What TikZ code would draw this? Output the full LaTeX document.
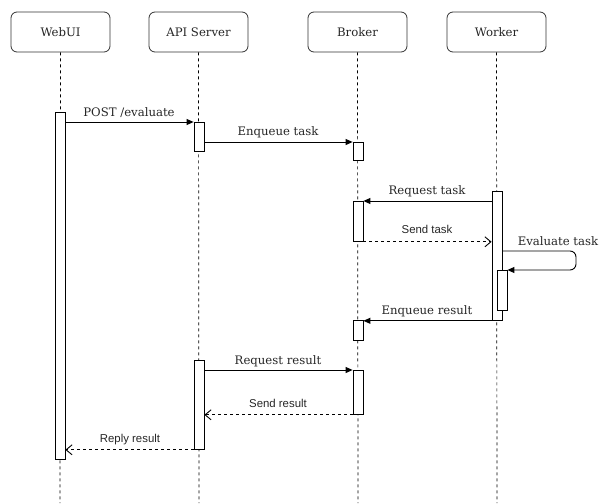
\documentclass[tikz,border=0pt]{standalone}
\usepackage{fontspec}
\setmainfont{DejaVu Serif}
\newfontfamily\lblsans{Liberation Sans}
\usetikzlibrary{arrows.meta}
\begin{document}
\begin{tikzpicture}[x=1pt,y=-1pt,
  every node/.style={text=black!85},
  header/.style={draw=black!80,line width=0.8pt,rounded corners=6pt,minimum width=99pt,minimum height=40pt,inner sep=0pt,fill=white,font=\fontsize{11.7}{13}\selectfont},
  life/.style={draw=black,line width=0.7pt,dash pattern=on 3pt off 3pt},
  act/.style={draw=black,line width=0.8pt,fill=white,minimum width=10pt,inner sep=0pt,anchor=north},
  msg/.style={draw=black,line width=0.9pt,-{Triangle[length=7pt,width=6pt]}},
  reply/.style={draw=black,line width=0.9pt,dash pattern=on 3pt off 3pt,-{Straight Barb[length=6pt,width=10pt,line width=0.9pt]}},
  slbl/.style={font=\fontsize{11.7}{13}\selectfont,anchor=base,inner sep=0pt},
  sslbl/.style={font=\lblsans\fontsize{11.4}{13}\selectfont,anchor=base,inner sep=0pt}]
\useasboundingbox (0,0) rectangle (599,503);
% headers
\node[header] (webui) at (60.5,32) {WebUI};
\node[header] (api) at (198.5,32) {API Server};
\node[header] (broker) at (357.5,32) {Broker};
\node[header] (worker) at (496.5,32) {Worker};
% lifeline ends
\coordinate (webuiE) at (60,503);
\coordinate (apiE) at (199,503);
\coordinate (brokerE) at (358,503);
\coordinate (workerE) at (497,503);
\draw[life] (webui.south) -- (webuiE);
\draw[life] (api.south) -- (apiE);
\draw[life] (broker.south) -- (brokerE);
\draw[life] (worker.south) -- (workerE);
% activation boxes
\node[act,minimum height=347pt] (w1) at (60,112) {};
\node[act,minimum height=29pt] (a1) at (199,122) {};
\node[act,minimum height=89pt] (a2) at (199,360) {};
\node[act,minimum height=18pt] (b1) at (358,142) {};
\node[act,minimum height=40pt] (b2) at (358,201) {};
\node[act,minimum height=20pt] (b3) at (358,320) {};
\node[act,minimum height=44pt] (b4) at (358,370) {};
\node[act,minimum height=129pt] (k1) at (497,191) {};
\node[act,minimum height=40pt] (k2) at (502,270) {};
% messages
\draw[msg] (w1.east |- a1.north) -- (a1.north west);
\node[slbl] (lpost) at (129,116) {POST /evaluate};
\draw[msg] (a1.east |- b1.north) -- (b1.north west);
\node[slbl] (lenq) at (278,135) {Enqueue task};
\draw[msg] (k1.west |- b2.north) -- (b2.north east);
\node[slbl] (lreq) at (427,194) {Request task};
\draw[reply] (b2.south east) -- (k1.west |- b2.south);
\node[sslbl] (lsend) at (427,233) {Send task};
\coordinate (loopA) at (576,251);
\draw[msg,rounded corners=6pt] (k1.east |- loopA) -- (loopA) -- (loopA |- k2.north) -- (k2.north east);
\node[slbl] (leval) at (558,245) {Evaluate task};
\draw[msg] (k1.south west) -- (k1.south west -| b3.east);
\node[slbl] (lenr) at (427,314) {Enqueue result};
\draw[msg] (a2.east |- b4.north) -- (b4.north west);
\node[slbl] (lreqr) at (278,364) {Request result};
\draw[reply] (b4.south west) -- (b4.south west -| a2.east);
\node[sslbl] (lsendr) at (278,407) {Send result};
\draw[reply] (a2.south west) -- (a2.south west -| w1.east);
\node[sslbl] (lrep) at (130,442) {Reply result};
\end{tikzpicture}
\end{document}
